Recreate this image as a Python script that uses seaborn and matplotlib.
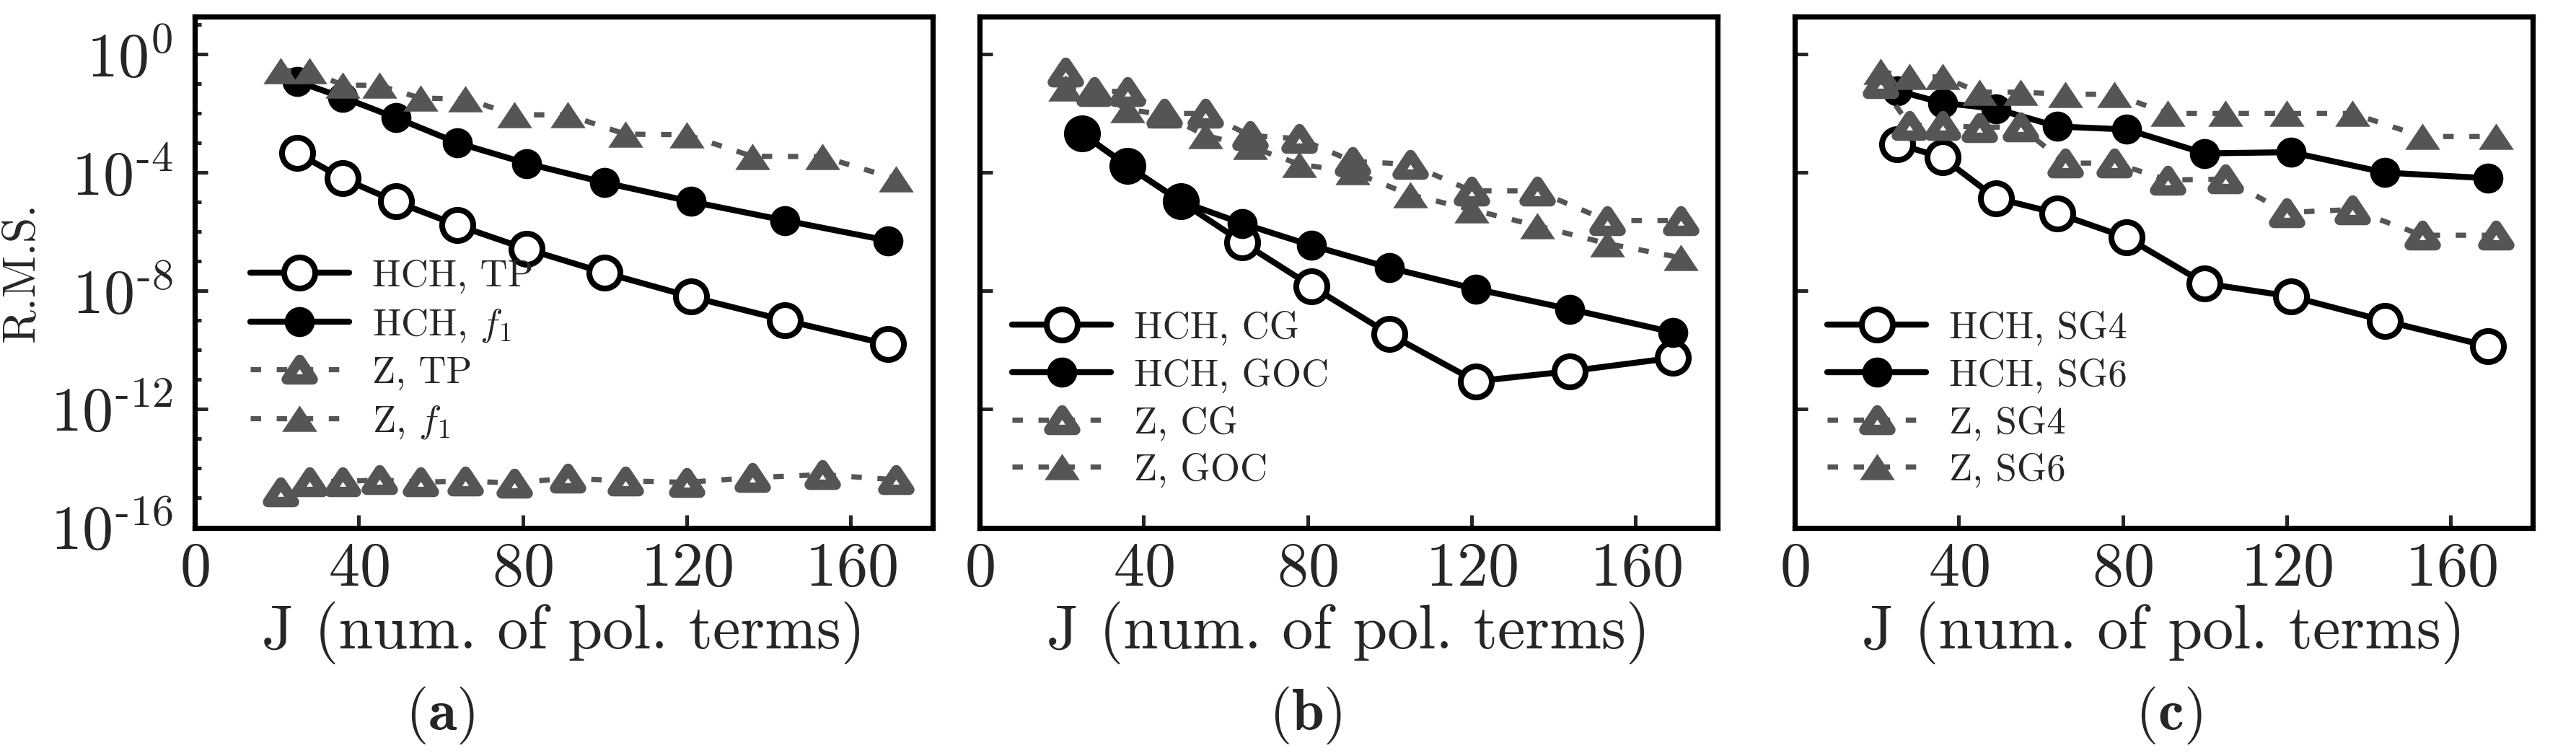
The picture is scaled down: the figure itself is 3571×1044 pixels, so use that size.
import matplotlib
matplotlib.use('Agg')
from matplotlib import pyplot as plt
from matplotlib.path import Path
from matplotlib.markers import MarkerStyle
import matplotlib.ticker as mtick
import seaborn as sns
import numpy as np

# number of polynomial terms
J_HCH = [25, 36, 49, 64, 81, 100, 121, 144, 169]
J_Z = [21, 28, 36, 45, 55, 66, 78, 91, 105, 120, 136, 153, 171]

# (a)
A_HCH_TP = [4.57e-4, 6.46e-5, 1.05e-5, 1.66e-6, 2.57e-7, 4.07e-8, 6.31e-9, 1.0e-9, 1.55e-10]
A_HCH_F1 = [1.20e-1, 3.55e-2, 7.24e-3, 1.02e-3, 2.04e-4, 4.57e-5, 1.05e-5, 2.40e-6, 5.01e-7]
A_Z_TP = [1.58e-15, 3.55e-15, 3.55e-15, 3.98e-15, 3.39e-15, 3.63e-15, 3.16e-15,
          4.57e-15, 3.72e-15, 3.31e-15, 4.79e-15, 6.03e-15, 4.07e-15]
A_Z_F1 = [2.82e-1, 2.82e-1, 9.12e-2, 8.91e-2, 3.31e-2, 3.09e-2, 9.12e-3,
          8.91e-3, 2.00e-3, 1.91e-3, 3.55e-4, 3.47e-4, 6.17e-5]

# (b)
B_HCH_CG = [2.09e-3, 1.70e-4, 1.07e-5, 4.47e-7, 1.41e-8, 3.39e-10, 8.71e-12, 1.91e-11, 5.37e-11]
B_HCH_GOC = [2.09e-3, 1.70e-4, 1.07e-5, 1.91e-6, 3.39e-7, 6.03e-8, 1.15e-8, 2.40e-9, 3.98e-10]
B_Z_CG = [2.51e-1, 5.62e-2, 5.62e-2, 1.0e-2, 1.0e-2, 1.78e-3, 1.41e-3,
          2.40e-4, 1.91e-4, 2.40e-5, 2.40e-5, 2.40e-6, 2.40e-6]
B_Z_GOC = [7.41e-2, 5.75e-2, 1.35e-2, 9.33e-3, 1.82e-3, 7.59e-4, 1.91e-4,
           1.05e-4, 1.78e-5, 5.62e-6, 1.58e-6, 3.98e-7, 1.32e-7]

# (c)
C_HCH_SG4 = [9.33e-4, 3.24e-4, 1.38e-5, 4.17e-6, 6.31e-7, 1.78e-8, 6.46e-9, 9.55e-10, 1.35e-10]
C_HCH_SG6 = [5.89e-2, 2.29e-2, 1.45e-2, 3.63e-3, 2.88e-3, 4.47e-4, 4.90e-4, 1.0e-4, 6.46e-5]
C_Z_SG4 = [1.0e-1, 3.98e-3, 3.98e-3, 3.39e-3, 3.55e-3, 2.09e-4, 2.09e-4,
           5.62e-5, 6.03e-5, 4.47e-6, 5.62e-6, 7.59e-7, 7.59e-7]
C_Z_SG6 = [2.63e-1, 1.74e-1, 1.74e-1, 5.25e-2, 5.25e-2, 4.47e-2, 4.47e-2,
           1.0e-2, 1.0e-2, 1.0e-2, 1.0e-2, 1.66e-3, 1.66e-3]

GRAY = '#555555'
DASH = (0, (2.0, 3.0))
TRI = MarkerStyle(Path([(0, 0.75), (-1, -0.75), (1, -0.75), (0, 0.75)], closed=True),
                  joinstyle='miter')

STYLES = {
    'hch_open': dict(color='black', marker='o', markersize=15.5, markerfacecolor='white',
                     markeredgecolor='black', markeredgewidth=2.9, linestyle='-',
                     linewidth=3.0),
    'hch_fill': dict(color='black', marker='o', markersize=15, markerfacecolor='black',
                     markeredgecolor='black', markeredgewidth=0, linestyle='-',
                     linewidth=3.0),
    'z_open': dict(color=GRAY, marker=TRI, markersize=13, markerfacecolor='white',
                   markeredgecolor=GRAY, markeredgewidth=5.2, linestyle=DASH,
                   linewidth=2.6),
    'z_fill': dict(color=GRAY, marker=TRI, markersize=17.5, markerfacecolor=GRAY,
                   markeredgecolor=GRAY, markeredgewidth=0, linestyle=DASH,
                   linewidth=2.6),
}


def log_label(v, pos):
    e = int(round(np.log10(v)))
    if e < 0:
        return r'$10^{\text{-}%d}$' % -e
    return r'$10^{%d}$' % e


def plot_panel(ax, series, anchor, first=False):
    for label, x, y, key in series:
        sns.lineplot(x=x, y=y, ax=ax, label=label, errorbar=None,
                     sort=False, **STYLES[key])
    ax.set_yscale('log')
    ax.set_xlim(0, 180)
    ax.set_ylim(9.5e-17, 1.9e1)
    ax.xaxis.set_major_locator(mtick.MultipleLocator(40))
    ax.yaxis.set_major_locator(mtick.LogLocator(base=1e4, numticks=10))
    if first:
        ax.yaxis.set_minor_locator(mtick.LogLocator(base=10, subs=(1.0,), numticks=30))
        ax.yaxis.set_major_formatter(mtick.FuncFormatter(log_label))
        ax.set_ylabel('R.M.S.', fontsize=23, labelpad=4)
    else:
        ax.yaxis.set_minor_locator(mtick.NullLocator())
        ax.yaxis.set_major_formatter(mtick.NullFormatter())
    ax.yaxis.set_minor_formatter(mtick.NullFormatter())
    ax.xaxis.set_minor_locator(mtick.NullLocator())
    ax.tick_params(axis='both', which='both', direction='in', top=False, right=False)
    ax.tick_params(axis='both', which='major', length=6.5, width=1.8, labelsize=31)
    ax.tick_params(axis='y', which='major', pad=11)
    ax.tick_params(axis='x', which='major', pad=7)
    ax.tick_params(axis='y', which='minor', length=3.3, width=1.8)
    ax.set_xlabel('J (num. of pol. terms)', fontsize=31, labelpad=2)
    for s in ax.spines.values():
        s.set_linewidth(2.6)
        s.set_color('black')
    ax.legend(loc='upper left', bbox_to_anchor=anchor, frameon=False, fontsize=19,
              handlelength=2.6, handletextpad=0.6, labelspacing=0.33,
              borderpad=0, borderaxespad=0)


if __name__ == '__main__':
    sns.set_theme(style='ticks')
    plt.rcParams['font.family'] = ['serif']
    plt.rcParams['font.serif'] = ['cmr10']
    plt.rcParams['mathtext.fontset'] = 'cm'
    plt.rcParams['axes.formatter.use_mathtext'] = True
    plt.rcParams['axes.unicode_minus'] = False

    fig = plt.figure(figsize=(17.855, 5.22), dpi=200)
    lefts = [270 / 3571, 1358 / 3571, 2488 / 3571]
    axes = [fig.add_axes([l, 0.2989, 0.2865, 0.6791]) for l in lefts]

    plot_panel(axes[0], [
        ('HCH, TP', J_HCH, A_HCH_TP, 'hch_open'),
        (r'HCH, $f_1$', J_HCH, A_HCH_F1, 'hch_fill'),
        ('Z, TP', J_Z, A_Z_TP, 'z_open'),
        (r'Z, $f_1$', J_Z, A_Z_F1, 'z_fill'),
    ], (0.075, 0.525), first=True)
    plot_panel(axes[1], [
        ('HCH, CG', J_HCH, B_HCH_CG, 'hch_open'),
        ('HCH, GOC', J_HCH, B_HCH_GOC, 'hch_fill'),
        ('Z, CG', J_Z, B_Z_CG, 'z_open'),
        ('Z, GOC', J_Z, B_Z_GOC, 'z_fill'),
    ], (0.044, 0.425))
    plot_panel(axes[2], [
        ('HCH, SG4', J_HCH, C_HCH_SG4, 'hch_open'),
        ('HCH, SG6', J_HCH, C_HCH_SG6, 'hch_fill'),
        ('Z, SG4', J_Z, C_Z_SG4, 'z_open'),
        ('Z, SG6', J_Z, C_Z_SG6, 'z_fill'),
    ], (0.044, 0.425))

    for xc, tag in zip([0.1708, 0.5069, 0.8418], ['a', 'b', 'c']):
        fig.text(xc, 0.05, r'($\mathbf{%s}$)' % tag, ha='center', va='center', fontsize=29)

    fig.savefig('out.png', dpi=200)
